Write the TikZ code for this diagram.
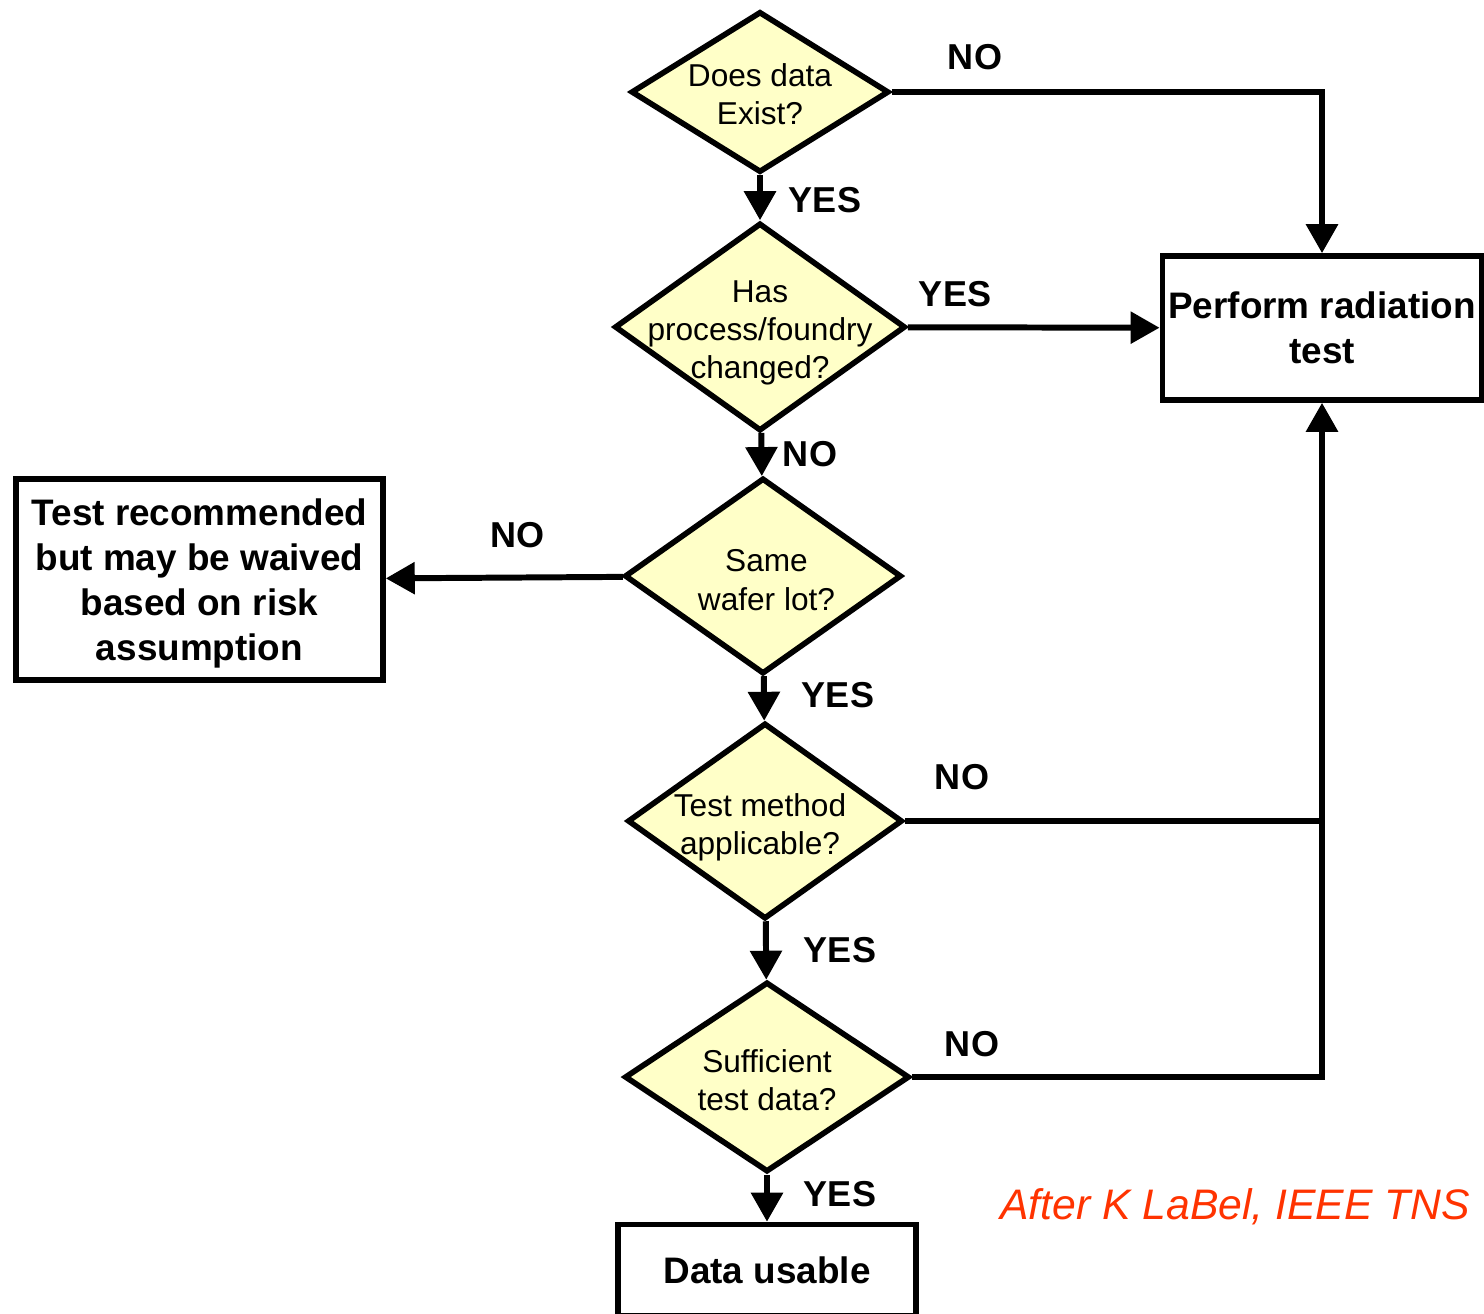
\documentclass[tikz,border=0pt]{standalone}
\usepackage{fontspec}
\setmainfont{Liberation Sans}
\usetikzlibrary{shapes.geometric,arrows.meta}
\pgfdeclarelayer{nodelayer}
\pgfdeclarelayer{edgelayer}
\pgfsetlayers{edgelayer,nodelayer,main}
\definecolor{decisionfill}{RGB}{255,255,200}
\definecolor{sourcered}{RGB}{255,51,0}
\tikzstyle{decision}=[fill=decisionfill, draw=black, shape=diamond, line width=3.2pt, inner sep=0pt]
\tikzstyle{question}=[align=center, inner sep=0pt, font=\fontsize{18}{21.8}\selectfont]
\tikzstyle{box}=[fill=white, draw=black, shape=rectangle, line width=3.2pt, align=center, font=\bfseries\fontsize{21}{25.5}\selectfont]
\tikzstyle{answer}=[font=\bfseries\fontsize{20.5}{25}\selectfont]
\tikzstyle{credit}=[text=sourcered, inner sep=0pt, font=\itshape\fontsize{24.3}{29}\selectfont]
\tikzstyle{directed edge}=[-{Triangle[length=0.58cm, width=0.62cm]}, line width=3.4pt]
\tikzstyle{plain edge}=[line width=3.4pt]

\begin{document}
\begin{tikzpicture}[x=0.02cm, y=-0.02cm]
	\useasboundingbox (0,0) rectangle (1484,1313);
	\begin{pgfonlayer}{nodelayer}
		\node [style=decision, minimum width=5.16cm, minimum height=3.22cm, label={[style=question, yshift=-0.04cm]center:Does data\\Exist?}] (0) at (760, 92) {};
		\node [style=decision, minimum width=5.82cm, minimum height=4.16cm, label={[style=question, yshift=-0.12cm]center:Has\\process/foundry\\changed?}] (1) at (760, 327) {};
		\node [style=decision, minimum width=5.54cm, minimum height=3.92cm, label={[style=question, xshift=0.07cm, yshift=-0.08cm]center:Same\\wafer lot?}] (2) at (763, 576) {};
		\node [style=decision, minimum width=5.5cm, minimum height=3.92cm, label={[style=question, xshift=-0.1cm, yshift=-0.12cm]center:Test method\\applicable?}] (3) at (765, 821) {};
		\node [style=decision, minimum width=5.7cm, minimum height=3.8cm, label={[style=question, yshift=-0.06cm]center:Sufficient\\test data?}] (4) at (767, 1077) {};
		\node [style=box, minimum width=6.36cm, minimum height=2.88cm] (5) at (1322, 328) {Perform radiation\\test};
		\node [style=box, minimum width=7.34cm, minimum height=4.02cm, text depth=0pt] (6) at (199.5, 579.5) {Test recommended\\but may be waived\\based on risk\\assumption};
		\node [style=box, minimum width=5.96cm, minimum height=1.82cm] (7) at (767, 1270) {Data usable};
		\node [style=answer] (8) at (975, 57) {NO};
		\node [style=answer] (9) at (825, 200) {YES};
		\node [style=answer] (10) at (955, 294) {YES};
		\node [style=answer] (11) at (810, 454) {NO};
		\node [style=answer] (12) at (518, 535) {NO};
		\node [style=answer] (13) at (838, 695) {YES};
		\node [style=answer] (14) at (962, 777) {NO};
		\node [style=answer] (15) at (840, 950) {YES};
		\node [style=answer] (16) at (972, 1044) {NO};
		\node [style=answer] (17) at (840, 1194) {YES};
		\node [style=credit, anchor=base west] (18) at (1000, 1219) {After K LaBel, IEEE TNS};
	\end{pgfonlayer}
	\begin{pgfonlayer}{edgelayer}
		\draw [style=directed edge] (0) -| (5);
		\draw [style=directed edge] (0) to (1);
		\draw [style=directed edge] (1) to (5);
		\draw [style=directed edge] (1) to (2);
		\draw [style=directed edge] (2) to (6);
		\draw [style=directed edge] (2) to (3);
		\draw [style=plain edge] (3) -- (3 -| 5);
		\draw [style=directed edge] (3) to (4);
		\draw [style=directed edge] (4) -| (5);
		\draw [style=directed edge] (4) to (7);
	\end{pgfonlayer}
\end{tikzpicture}
\end{document}
